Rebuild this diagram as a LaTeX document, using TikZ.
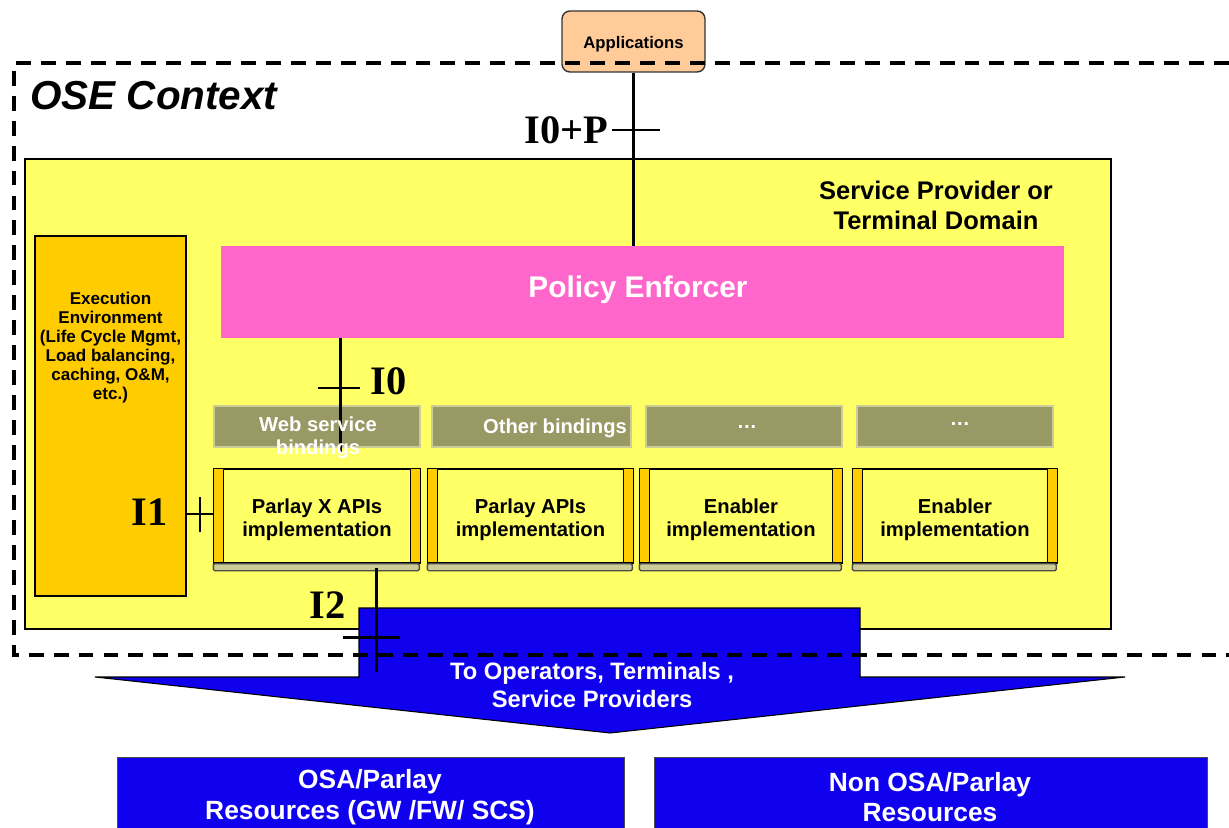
\documentclass[tikz,border=0pt]{standalone}
\usepackage{fontspec}
\setmainfont{Liberation Sans}
\newfontfamily\tms{Liberation Serif}
\usetikzlibrary{positioning}
\definecolor{domyellow}{HTML}{FFFF66}
\definecolor{exeorange}{HTML}{FFCC00}
\definecolor{polpink}{HTML}{FF66CC}
\definecolor{apppeach}{HTML}{FFCC99}
\definecolor{bndolive}{HTML}{999966}
\definecolor{barkhaki}{HTML}{CCCC99}
\definecolor{resblue}{HTML}{0F00EE}

\begin{document}
\begin{tikzpicture}[x=0.2mm,y=-0.2mm,
  every node/.style={inner sep=0pt, font=\bfseries},
  box/.style 2 args={minimum width=(#1)*0.2mm, minimum height=(#2)*0.2mm},
  bnd/.style={fill=bndolive, draw=barkhaki, line width=0.8pt},
  bndtxt/.style={text=white, font=\bfseries\fontsize{11.5}{13}\selectfont, align=center},
  impl/.style={draw, fill=domyellow, line width=0.8pt},
  impltxt/.style={align=center, yshift=-0.8mm, font=\bfseries\fontsize{11.5}{13}\selectfont},
  iline/.style={line width=1.7pt},
  ilabel/.style={font=\tms\bfseries\fontsize{23}{26}\selectfont},
  restxt/.style={text=white, align=center, font=\bfseries\fontsize{15}{17.5}\selectfont}]
\useasboundingbox (0,0) rectangle (1229,827);

\node[box={1086}{470}, draw, fill=domyellow, line width=0.6pt] (dom) at (568,394) {};
\node[align=center, font=\bfseries\fontsize{14.5}{17}\selectfont] (domtxt) at (936,205) {Service Provider or\\Terminal Domain};

\node[box={151}{360}, draw, fill=exeorange, line width=0.6pt] (exe) at (110.5,416) {};
\node[align=center, font=\bfseries\fontsize{9.7}{10.8}\selectfont] (exetxt) at (110.5,348)
  {Execution\\Environment\\(Life Cycle Mgmt,\\Load balancing,\\caching, O\&M,\\etc.)};

\node[box={843}{92}, fill=polpink] (pol) at (642.5,292) {};
\node[text=white, font=\bfseries\fontsize{17}{20}\selectfont] (poltxt) at (638,290) {Policy Enforcer};

\foreach \n/\a/\b in {1/214/420, 2/432/631, 3/646/842, 4/857/1053}
  \node[bnd, box={\b-\a}{41}] (bnd\n) at ({(\a+\b)/2},426.5) {};

\foreach \n/\a/\b/\t in {1/214/420/{Parlay X APIs\\implementation}, 2/428/633/{Parlay APIs\\implementation},
    3/640/842/{Enabler\\implementation}, 4/853/1057/{Enabler\\implementation}} {
  \node[impl, box={\b-\a}{94}, label={[impltxt]center:\t}] (imp\n) at ({(\a+\b)/2},516) {};
  \draw[fill=exeorange, line width=0.8pt] (imp\n.north west) rectangle ++(10,94);
  \draw[fill=exeorange, line width=0.8pt] (imp\n.north east) rectangle ++(-10,94);
  \draw[fill=barkhaki, draw=black!70, line width=0.8pt, rounded corners=0.8pt] (imp\n.south west) rectangle ++({\b-\a},7);
}

\draw[fill=resblue, line width=0.6pt] (359,608) -- (860,608) -- (860,677) -- (1125,677) -- (610,733)
  -- (95,677) -- (359,677) -- cycle;
\node[restxt, font=\bfseries\fontsize{13.5}{15.5}\selectfont] (totxt) at (592,685) {To Operators, Terminals ,\\Service Providers};

\node[box={507}{80}, fill=resblue, draw=black!70, line width=0.8pt, anchor=north west] (osa) at (117,757) {};
\node[box={553}{80}, fill=resblue, draw=black!70, line width=0.8pt, anchor=north west] (nonosa) at (654,757) {};
\node[restxt] (osatxt) at (370,797) {OSA/Parlay\\Resources (GW /FW/ SCS)};
\node[restxt] (nonosatxt) at (930,797) {Non OSA/Parlay\\Resources};

\node[box={143}{61}, draw=black!80, fill=apppeach, rounded corners=4.5pt, line width=0.8pt,
  label={[yshift=-0.6mm, font=\bfseries\fontsize{9.5}{11}\selectfont]center:Applications}] (app) at (633.5,41.5) {};

\draw[line width=2.3pt, dash pattern=on 8.5pt off 5.7pt] (1229,63) -- (14,63) -- (14,655) -- (1229,655);
\node[anchor=west, font=\bfseries\itshape\fontsize{23}{27}\selectfont] (ose) at (30,96) {OSE Context};

% interfaces
\draw[iline] (app.south -| 633,0) -- (633,246);
\draw[iline] (612,130) -- (660,130);
\node[ilabel, anchor=east] (i0p) at (609,130) {I0+P};

\coordinate (i0end) at (340,452);
\draw[iline] (pol.south -| i0end) -- (i0end);
\draw[iline] (318,388) -- (360,388);
\node[ilabel, anchor=west] (i0) at (370,381) {I0};

\draw[iline] (exe.east |- 0,514) -- (imp1.west |- 0,514);
\draw[iline] (200,497) -- (200,532);
\node[ilabel, anchor=east] (i1) at (168,512) {I1};

\coordinate (i2end) at (376,672);
\draw[iline] (376,568) -- (i2end);
\draw[iline] (343,637) -- (400,637);
\node[ilabel, anchor=east] (i2) at (346,605) {I2};

\node[bndtxt] (bt1) at (318,438) {Web service\\bindings};
\node[bndtxt] (bt2) at (555,428) {Other bindings};
\node[bndtxt] (bt3) at (747,427) {\ldots};
\node[bndtxt] (bt4) at (960,424) {\ldots};
\end{tikzpicture}
\end{document}
